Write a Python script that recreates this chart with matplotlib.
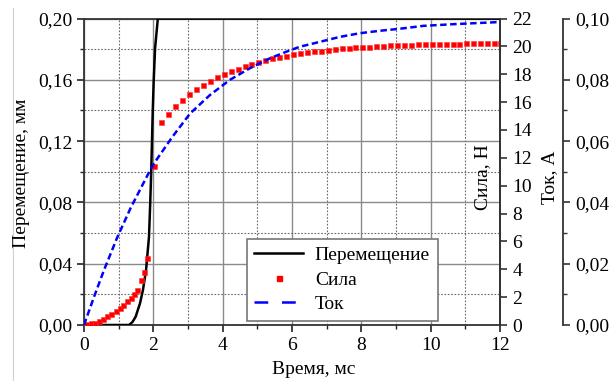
import matplotlib
matplotlib.use("Agg")
import matplotlib.pyplot as plt
from matplotlib.ticker import MultipleLocator, FuncFormatter
from matplotlib.lines import Line2D

# ---------------- data ----------------
# Displacement, mm
disp_t = [0.0, 1.30, 1.40, 1.49, 1.615, 1.70, 1.79, 1.875, 1.91, 1.94, 1.98, 2.01, 2.05, 2.13, 12.0]
disp_v = [0.0, 0.0, 0.002, 0.0054, 0.0141, 0.0228, 0.0359, 0.0576, 0.0794, 0.101, 0.137, 0.159, 0.1805, 0.2, 0.2]

# Force, N
force_t = [0.05, 0.19, 0.31, 0.43, 0.56, 0.67, 0.79, 0.91, 1.03, 1.13, 1.25, 1.35, 1.44, 1.52, 1.65, 1.74, 1.83,
           2.02, 2.23, 2.43, 2.63, 2.83, 3.03, 3.23, 3.43, 3.63, 3.83, 4.03, 4.23, 4.43, 4.63, 4.83,
           5.03, 5.23, 5.43, 5.63, 5.83, 6.03, 6.23, 6.43, 6.63, 6.83, 7.03, 7.23, 7.43, 7.63, 7.83,
           8.03, 8.23, 8.43, 8.63, 8.83, 9.03, 9.23, 9.43, 9.63, 9.83, 10.03, 10.23, 10.43, 10.63, 10.83,
           11.03, 11.23, 11.43, 11.63, 11.83, 12.0]
force_v = [0.07, 0.12, 0.17, 0.31, 0.45, 0.65, 0.79, 1.03, 1.22, 1.46, 1.70, 1.96, 2.23, 2.51, 3.21, 3.78, 4.79,
           11.43, 14.55, 15.17, 15.72, 16.17, 16.58, 16.92, 17.23, 17.51, 17.78, 17.99, 18.21, 18.40, 18.59, 18.73,
           18.88, 19.02, 19.14, 19.24, 19.33, 19.45, 19.50, 19.57, 19.64, 19.69, 19.76, 19.81, 19.86, 19.88, 19.93,
           19.95, 19.98, 20.03, 20.05, 20.08, 20.10, 20.11, 20.12, 20.14, 20.15, 20.16, 20.17, 20.18, 20.19, 20.20,
           20.21, 20.22, 20.23, 20.24, 20.25, 20.26]

# Current, A
cur_t = [0.0, 0.29, 0.58, 0.96, 1.35, 1.875, 2.0, 2.55, 3.06, 3.63, 4.21, 4.79, 5.36, 5.89, 6.23, 6.81,
         7.38, 7.96, 8.54, 9.07, 9.79, 10.75, 11.9, 12.0]
cur_v = [0.0, 0.0092, 0.0180, 0.0286, 0.0383, 0.0498, 0.0524, 0.0614, 0.0690, 0.0750, 0.0800, 0.0838,
         0.0870, 0.0894, 0.0908, 0.0924, 0.0940, 0.0952, 0.0960, 0.0966, 0.0976, 0.0982, 0.0988, 0.0988]

labels = ["Перемещение", "Сила", "Ток"]
xlabel = "Время, мс"
ylabel_left = "Перемещение, мм"
ylabel_force = "Сила, Н"
ylabel_cur = "Ток, А"

# ---------------- style ----------------
plt.rcParams['font.family'] = ['Liberation Serif', 'DejaVu Serif']
FS = 14

W, H = 615, 381
fig = plt.figure(figsize=(W / 100, H / 100), dpi=100)
L, R, B, T = 84, 500, 325, 18.5
ax = fig.add_axes([L / W, 1 - B / H, (R - L) / W, (B - T) / H])

comma = lambda fmt: FuncFormatter(lambda v, p: fmt.format(v).replace('.', ','))

ax.set_xlim(0, 12)
ax.set_ylim(0, 0.20)
ax.xaxis.set_major_locator(MultipleLocator(2))
ax.xaxis.set_minor_locator(MultipleLocator(1))
ax.yaxis.set_major_locator(MultipleLocator(0.04))
ax.yaxis.set_minor_locator(MultipleLocator(0.02))
ax.yaxis.set_major_formatter(comma("{:.2f}"))
ax.grid(which='major', color='#8a8a8a', lw=1.0, ls='-')
ax.grid(which='minor', color='#6a6a6a', lw=0.8, ls=(0, (1.5, 1.5)))
ax.set_axisbelow(True)
ax.tick_params(which='major', direction='out', length=5, width=1.2, labelsize=FS, pad=3.5, colors='#222222', labelcolor='black')
ax.tick_params(which='minor', direction='out', length=3, width=1.0, colors='#222222')
for s in ax.spines.values():
    s.set_linewidth(1.3)
    s.set_color('#333333')

ax.plot(disp_t, disp_v, color='black', lw=1.8, zorder=3)

ax2 = ax.twinx()
ax2.set_ylim(0, 22)
ax2.yaxis.set_major_locator(MultipleLocator(2))
ax2.tick_params(direction='out', length=5, width=1.2, labelsize=FS, pad=4, colors='#333333', labelcolor='black')
ax2.plot(force_t, force_v, ls='none', marker='s', ms=3.6, mfc='red', mec='#ff3030', mew=0.4, color='red')
for k in ['left', 'top', 'bottom']:
    ax2.spines[k].set_visible(False)
ax2.spines['right'].set_linewidth(1.3)
ax2.spines['right'].set_color('#333333')

ax3 = ax.twinx()
ax3.set_ylim(0, 0.10)
ax3.spines['right'].set_position(('axes', (563 - L) / (R - L)))
for k in ['left', 'top', 'bottom']:
    ax3.spines[k].set_visible(False)
ax3.spines['right'].set_linewidth(1.3)
ax3.spines['right'].set_color('#333333')
ax3.yaxis.set_major_locator(MultipleLocator(0.02))
ax3.yaxis.set_minor_locator(MultipleLocator(0.01))
ax3.yaxis.set_major_formatter(comma("{:.2f}"))
ax3.tick_params(which='major', direction='out', length=5, width=1.2, labelsize=FS, pad=4, colors='#333333', labelcolor='black')
ax3.tick_params(which='minor', direction='out', length=3, width=1.0, colors='#333333')
ax3.plot(cur_t, cur_v, color='blue', lw=1.8, dashes=(2.6, 1.4))

# legend
h1 = Line2D([], [], color='black', lw=1.8)
h2 = Line2D([], [], ls='none', marker='s', ms=3.6, mfc='red', mec='red')
h3 = Line2D([], [], color='blue', lw=1.8, dashes=(5.5, 5.5))
leg = ax3.legend([h1, h2, h3], labels, loc='lower left',
                 bbox_to_anchor=((246.7 - L) / (R - L), (B - 320.7) / (B - T)),
                 borderaxespad=0, fontsize=FS, frameon=True, fancybox=False,
                 edgecolor='#777777', framealpha=1, handlelength=2.5, handletextpad=0.6,
                 labelspacing=0.35, borderpad=0.4, numpoints=1)
leg.get_frame().set_linewidth(1.2)

# labels
fig.text(314 / W, 1 - 370 / H, xlabel, ha='center', va='center', fontsize=FS)
fig.text(22 / W, 1 - 173 / H, ylabel_left, ha='center', va='center', rotation=90, fontsize=FS)
fig.text(483 / W, 1 - 177 / H, ylabel_force, ha='center', va='center', rotation=90, fontsize=FS)
fig.text(550 / W, 1 - 177 / H, ylabel_cur, ha='center', va='center', rotation=90, fontsize=FS)

# faint border line at the left edge of the picture
fig.add_artist(Line2D([12.5 / W, 12.5 / W], [0, 1 - 8 / H], transform=fig.transFigure, color='#d0d0d0', lw=0.8))

fig.savefig("out.png", dpi=100)
